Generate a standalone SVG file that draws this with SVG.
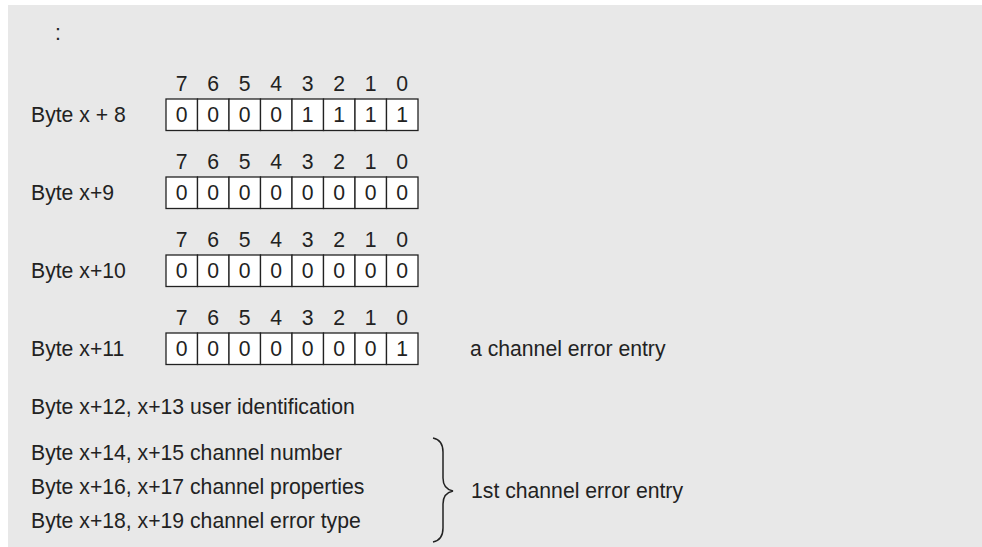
<svg xmlns="http://www.w3.org/2000/svg" width="982" height="547" viewBox="0 0 982 547">
  <defs>
    <style>
      .bg { fill: #e8e8e8; }
      .t { font-family: "Liberation Sans", Arial, sans-serif; font-size: 21.2px; fill: #222; }
      .n { font-family: "Liberation Sans", Arial, sans-serif; font-size: 21.2px; fill: #222; text-anchor: middle; }
      .cell { fill: #fff; stroke: #222; stroke-width: 1.3; }
      .brace { fill: none; stroke: #222; stroke-width: 1.5; }
    </style>
    <!-- one byte: eight bit cells, 31.5 wide -->
    <g id="cells">
      <rect class="cell" x="0" y="0" width="31.5" height="31.5"/>
      <rect class="cell" x="31.5" y="0" width="31.5" height="31.5"/>
      <rect class="cell" x="63" y="0" width="31.5" height="31.5"/>
      <rect class="cell" x="94.5" y="0" width="31.5" height="31.5"/>
      <rect class="cell" x="126" y="0" width="31.5" height="31.5"/>
      <rect class="cell" x="157.5" y="0" width="31.5" height="31.5"/>
      <rect class="cell" x="189" y="0" width="31.5" height="31.5"/>
      <rect class="cell" x="220.5" y="0" width="31.5" height="31.5"/>
    </g>
    <!-- bit numbers above a byte -->
    <g id="bitnums">
      <text class="n" x="15.75" y="-8.5">7</text>
      <text class="n" x="47.25" y="-8.5">6</text>
      <text class="n" x="78.75" y="-8.5">5</text>
      <text class="n" x="110.25" y="-8.5">4</text>
      <text class="n" x="141.75" y="-8.5">3</text>
      <text class="n" x="173.25" y="-8.5">2</text>
      <text class="n" x="204.75" y="-8.5">1</text>
      <text class="n" x="236.25" y="-8.5">0</text>
    </g>
  </defs>

  <rect class="bg" x="8" y="5" width="974" height="542"/>

  <text class="t" x="55" y="40">:</text>

  <!-- Byte x + 8 -->
  <g id="byte8" transform="translate(166,99)">
    <text class="t" x="-135" y="22.5">Byte x + 8</text>
    <use href="#bitnums"/>
    <use href="#cells"/>
    <text class="n" x="15.75" y="23">0</text>
    <text class="n" x="47.25" y="23">0</text>
    <text class="n" x="78.75" y="23">0</text>
    <text class="n" x="110.25" y="23">0</text>
    <text class="n" x="141.75" y="23">1</text>
    <text class="n" x="173.25" y="23">1</text>
    <text class="n" x="204.75" y="23">1</text>
    <text class="n" x="236.25" y="23">1</text>
  </g>

  <!-- Byte x+9 -->
  <g id="byte9" transform="translate(166,177)">
    <text class="t" x="-135" y="22.5">Byte x+9</text>
    <use href="#bitnums"/>
    <use href="#cells"/>
    <text class="n" x="15.75" y="23">0</text>
    <text class="n" x="47.25" y="23">0</text>
    <text class="n" x="78.75" y="23">0</text>
    <text class="n" x="110.25" y="23">0</text>
    <text class="n" x="141.75" y="23">0</text>
    <text class="n" x="173.25" y="23">0</text>
    <text class="n" x="204.75" y="23">0</text>
    <text class="n" x="236.25" y="23">0</text>
  </g>

  <!-- Byte x+10 -->
  <g id="byte10" transform="translate(166,255)">
    <text class="t" x="-135" y="22.5">Byte x+10</text>
    <use href="#bitnums"/>
    <use href="#cells"/>
    <text class="n" x="15.75" y="23">0</text>
    <text class="n" x="47.25" y="23">0</text>
    <text class="n" x="78.75" y="23">0</text>
    <text class="n" x="110.25" y="23">0</text>
    <text class="n" x="141.75" y="23">0</text>
    <text class="n" x="173.25" y="23">0</text>
    <text class="n" x="204.75" y="23">0</text>
    <text class="n" x="236.25" y="23">0</text>
  </g>

  <!-- Byte x+11 -->
  <g id="byte11" transform="translate(166,333)">
    <text class="t" x="-135" y="22.5">Byte x+11</text>
    <use href="#bitnums"/>
    <use href="#cells"/>
    <text class="n" x="15.75" y="23">0</text>
    <text class="n" x="47.25" y="23">0</text>
    <text class="n" x="78.75" y="23">0</text>
    <text class="n" x="110.25" y="23">0</text>
    <text class="n" x="141.75" y="23">0</text>
    <text class="n" x="173.25" y="23">0</text>
    <text class="n" x="204.75" y="23">0</text>
    <text class="n" x="236.25" y="23">1</text>
    <text class="t" x="304" y="22.5">a channel error entry</text>
  </g>

  <g id="user-id">
    <text class="t" x="31" y="413.5">Byte x+12, x+13 user identification</text>
  </g>

  <g id="entry">
    <text class="t" x="31" y="459.5">Byte x+14, x+15 channel number</text>
    <text class="t" x="31" y="494">Byte x+16, x+17 channel properties</text>
    <text class="t" x="31" y="527.5">Byte x+18, x+19 channel error type</text>
    <path class="brace" d="M433,438 Q443,440 443,452 L443,478 Q443,489 453,491 Q443,493 443,504 L443,528 Q443,540 433,542"/>
    <text class="t" x="471" y="498">1st channel error entry</text>
  </g>
</svg>
